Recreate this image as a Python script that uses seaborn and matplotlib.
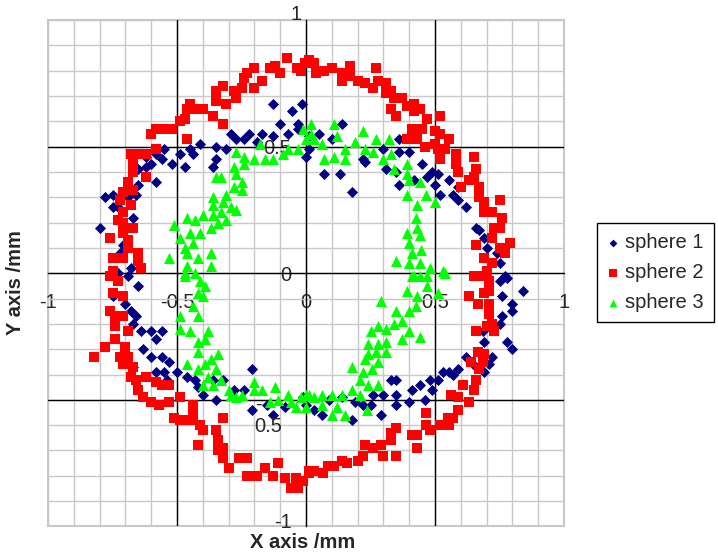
import pandas as pd
import numpy as np
import matplotlib
matplotlib.use("Agg")
import matplotlib.pyplot as plt
import matplotlib.transforms as mtransforms
import seaborn as sns

# Points, (x, y) in mm
sphere1 = [
    (-0.13, 0.67), (-0.055, 0.64), (-0.015, 0.67), (-0.03, 0.59), (-0.10, 0.59), (-0.17, 0.55),
    (-0.22, 0.55), (-0.27, 0.53), (-0.29, 0.55), (-0.24, 0.53), (-0.19, 0.52), (-0.13, 0.54),
    (-0.07, 0.55), (-0.03, 0.57), (0.00, 0.46), (-0.35, 0.50), (-0.31, 0.49), (-0.35, 0.45),
    (-0.36, 0.42), (-0.41, 0.51), (-0.45, 0.49), (-0.44, 0.47), (-0.49, 0.47), (-0.47, 0.42),
    (-0.52, 0.43), (-0.56, 0.45), (-0.55, 0.49), (-0.58, 0.47), (-0.62, 0.46), (-0.62, 0.42),
    (-0.65, 0.41), (-0.60, 0.43), (-0.58, 0.36), (-0.65, 0.35), (-0.66, 0.31), (-0.69, 0.30),
    (-0.75, 0.31), (-0.78, 0.30), (-0.75, 0.26), (-0.73, 0.26), (-0.80, 0.18), (-0.67, 0.22),
    (-0.71, 0.11), (-0.72, 0.08), (-0.68, 0.02), (-0.73, 0.00),
    (0.01, 0.54), (0.01, 0.49), (0.05, 0.55), (0.10, 0.53), (0.14, 0.59), (0.07, 0.39),
    (0.13, 0.39), (0.18, 0.32), (0.22, 0.45), (0.23, 0.44), (0.30, 0.49), (0.36, 0.53),
    (0.36, 0.48), (0.40, 0.48), (0.31, 0.41), (0.35, 0.40), (0.36, 0.35), (0.45, 0.43),
    (0.47, 0.38), (0.49, 0.40), (0.51, 0.39), (0.50, 0.35), (0.52, 0.31), (0.555, 0.37),
    (0.57, 0.31), (0.59, 0.29), (0.59, 0.34), (0.62, 0.26), (0.66, 0.18), (0.67, 0.17),
    (0.69, 0.14), (0.70, 0.10), (0.74, 0.08), (0.75, 0.04), (0.78, -0.02), (0.42, 0.37),
    (-0.75, 0.00), (-0.69, -0.01), (-0.65, -0.05), (-0.75, -0.09), (-0.70, -0.12), (-0.68, -0.15),
    (-0.66, -0.17), (-0.67, -0.20), (-0.64, -0.23), (-0.60, -0.23), (-0.56, -0.23), (-0.58, -0.26),
    (-0.63, -0.30), (-0.60, -0.33), (-0.56, -0.33), (-0.53, -0.35), (-0.67, -0.37), (-0.58, -0.39),
    (-0.55, -0.39), (-0.54, -0.42), (-0.50, -0.39), (-0.46, -0.41), (-0.43, -0.42), (-0.42, -0.45),
    (-0.40, -0.48), (-0.36, -0.42), (-0.32, -0.42), (-0.35, -0.50), (-0.28, -0.46), (-0.24, -0.46),
    (-0.21, -0.38), (-0.21, -0.54), (-0.15, -0.52), (-0.13, -0.56), (-0.08, -0.53), (0.00, -0.52),
    (0.77, -0.01), (0.75, -0.03), (0.84, -0.07), (0.76, -0.09), (0.80, -0.12), (0.80, -0.15),
    (0.76, -0.17), (0.75, -0.20), (0.685, -0.23), (0.69, -0.27), (0.78, -0.27), (0.80, -0.30),
    (0.72, -0.33), (0.71, -0.36), (0.66, -0.37), (0.69, -0.39), (0.62, -0.33), (0.59, -0.38),
    (0.57, -0.40), (0.555, -0.39), (0.53, -0.39), (0.51, -0.42), (0.48, -0.42), (0.44, -0.44),
    (0.49, -0.46), (0.46, -0.50), (0.41, -0.46), (0.40, -0.51), (0.35, -0.42), (0.33, -0.42),
    (0.35, -0.48), (0.30, -0.48), (0.26, -0.48), (0.25, -0.52), (0.22, -0.52), (0.29, -0.56),
    (0.35, -0.52), (0.18, -0.58), (0.19, -0.51), (0.14, -0.49), (0.09, -0.50), (0.06, -0.56),
    (0.03, -0.54), (-0.01, -0.49),
]

sphere2 = [
    (-0.074, 0.85), (-0.12, 0.82), (-0.035, 0.81), (-0.003, 0.83), (-0.14, 0.81), (-0.20, 0.81),
    (-0.23, 0.79), (-0.17, 0.76), (-0.24, 0.77), (-0.10, 0.79), (-0.32, 0.74), (-0.35, 0.72),
    (-0.28, 0.72), (-0.25, 0.73), (-0.20, 0.73), (-0.27, 0.69), (-0.31, 0.67), (-0.35, 0.68),
    (-0.32, 0.59), (-0.36, 0.62), (-0.40, 0.65), (-0.45, 0.67), (-0.46, 0.65), (-0.43, 0.65),
    (-0.47, 0.61), (-0.49, 0.60), (-0.46, 0.53), (-0.52, 0.57), (-0.55, 0.57), (-0.58, 0.57),
    (-0.60, 0.55), (-0.58, 0.49), (-0.62, 0.47), (-0.65, 0.47), (-0.68, 0.47), (-0.67, 0.43),
    (-0.67, 0.40), (-0.62, 0.38), (-0.69, 0.36), (-0.71, 0.32), (-0.67, 0.33), (-0.72, 0.29),
    (-0.68, 0.27), (-0.71, 0.24), (-0.73, 0.21), (-0.71, 0.20), (-0.67, 0.18), (-0.71, 0.16),
    (-0.69, 0.13), (-0.76, 0.14), (-0.75, 0.06), (-0.71, 0.06), (-0.65, 0.08), (-0.65, 0.05),
    (-0.64, 0.02), (-0.75, 0.01), (-0.69, 0.10),
    (-0.02, 0.80), (0.013, 0.84), (0.03, 0.83), (0.04, 0.79), (0.07, 0.80), (0.10, 0.81),
    (0.14, 0.79), (0.14, 0.76), (0.17, 0.82), (0.17, 0.78), (0.20, 0.76), (0.23, 0.75),
    (0.26, 0.73), (0.27, 0.81), (0.28, 0.76), (0.31, 0.75), (0.31, 0.71), (0.33, 0.72),
    (0.34, 0.69), (0.33, 0.65), (0.35, 0.62), (0.37, 0.69), (0.39, 0.66), (0.42, 0.67),
    (0.44, 0.65), (0.42, 0.64), (0.47, 0.61), (0.41, 0.57), (0.45, 0.57), (0.39, 0.53),
    (0.43, 0.53), (0.46, 0.50), (0.50, 0.56), (0.52, 0.62), (0.52, 0.55), (0.50, 0.51),
    (0.51, 0.49), (0.555, 0.53), (0.54, 0.49), (0.52, 0.45), (0.58, 0.47), (0.58, 0.43),
    (0.59, 0.40), (0.65, 0.46), (0.66, 0.41), (0.65, 0.38), (0.60, 0.34), (0.63, 0.37),
    (0.67, 0.34), (0.67, 0.30), (0.69, 0.28), (0.69, 0.24), (0.75, 0.29), (0.72, 0.24),
    (0.76, 0.22), (0.73, 0.18), (0.75, 0.18), (0.72, 0.14), (0.79, 0.12), (0.75, 0.10),
    (0.77, 0.08), (0.66, 0.11), (0.69, 0.06), (0.72, 0.04), (0.70, 0.01), (0.65, -0.01),
    (-0.76, -0.01), (-0.73, -0.03), (-0.75, -0.08), (-0.71, -0.09), (-0.76, -0.15), (-0.74, -0.17),
    (-0.71, -0.17), (-0.74, -0.21), (-0.74, -0.26), (-0.69, -0.23), (-0.78, -0.29), (-0.82, -0.33),
    (-0.70, -0.29), (-0.72, -0.33), (-0.69, -0.33), (-0.71, -0.36), (-0.67, -0.37), (-0.68, -0.41),
    (-0.66, -0.42), (-0.62, -0.41), (-0.58, -0.43), (-0.53, -0.44), (-0.56, -0.44), (-0.65, -0.46),
    (-0.63, -0.49), (-0.60, -0.51), (-0.57, -0.52), (-0.53, -0.51), (-0.49, -0.49), (-0.51, -0.57),
    (-0.49, -0.58), (-0.45, -0.58), (-0.44, -0.52), (-0.44, -0.56), (-0.41, -0.60), (-0.40, -0.62),
    (-0.32, -0.57), (-0.42, -0.68), (-0.35, -0.62), (-0.34, -0.66), (-0.34, -0.70), (-0.32, -0.69),
    (-0.32, -0.73), (-0.30, -0.77), (-0.26, -0.73), (-0.23, -0.73), (-0.23, -0.80), (-0.19, -0.80),
    (-0.16, -0.77), (-0.11, -0.75), (-0.13, -0.80), (-0.08, -0.81), (-0.06, -0.85), (-0.03, -0.85),
    (-0.04, -0.81), (0.01, -0.78),
    (0.66, -0.01), (0.69, -0.01), (0.71, -0.03), (0.63, -0.09), (0.665, -0.12), (0.69, -0.08),
    (0.71, -0.07), (0.71, -0.12), (0.71, -0.16), (0.72, -0.20), (0.73, -0.23), (0.70, -0.21),
    (0.66, -0.23), (0.665, -0.31), (0.69, -0.32), (0.64, -0.35), (0.685, -0.35), (0.67, -0.38),
    (0.66, -0.42), (0.61, -0.44), (0.65, -0.46), (0.63, -0.51), (0.59, -0.49), (0.56, -0.48),
    (0.59, -0.54), (0.57, -0.57), (0.55, -0.57), (0.555, -0.60), (0.52, -0.60), (0.465, -0.55),
    (0.465, -0.60), (0.48, -0.62), (0.43, -0.64), (0.41, -0.64), (0.43, -0.69), (0.35, -0.61),
    (0.33, -0.63), (0.33, -0.66), (0.35, -0.72), (0.29, -0.68), (0.30, -0.72), (0.26, -0.69),
    (0.23, -0.68), (0.22, -0.72), (0.20, -0.74), (0.16, -0.75), (0.14, -0.74), (0.11, -0.76),
    (0.085, -0.76), (0.065, -0.79), (0.03, -0.78), (0.01, -0.79), (-0.01, -0.82),
]

sphere3 = [
    (0.02, 0.55), (0.00, 0.53), (-0.03, 0.49), (-0.07, 0.49), (-0.09, 0.47), (-0.13, 0.45),
    (-0.16, 0.45), (-0.18, 0.51), (-0.20, 0.45), (-0.24, 0.46), (-0.27, 0.48), (-0.24, 0.43),
    (-0.27, 0.39), (-0.28, 0.42), (-0.25, 0.36), (-0.35, 0.38), (-0.33, 0.38), (-0.25, 0.33),
    (-0.28, 0.34), (-0.31, 0.31), (-0.36, 0.30), (-0.29, 0.26), (-0.27, 0.25), (-0.32, 0.28),
    (-0.36, 0.27), (-0.36, 0.23), (-0.33, 0.24), (-0.31, 0.21), (-0.34, 0.20), (-0.40, 0.23),
    (-0.43, 0.21), (-0.46, 0.22), (-0.51, 0.19), (-0.37, 0.18), (-0.41, 0.16), (-0.45, 0.16),
    (-0.49, 0.14), (-0.44, 0.12), (-0.47, 0.10), (-0.53, 0.06), (-0.46, 0.08), (-0.42, 0.06),
    (-0.37, 0.08), (-0.37, 0.03), (-0.46, 0.03), (-0.47, 0.00), (-0.43, 0.00),
    (-0.01, 0.57), (0.02, 0.59), (0.03, 0.53), (0.06, 0.51), (0.07, 0.45), (0.11, 0.59),
    (0.12, 0.54), (0.11, 0.46), (0.15, 0.49), (0.15, 0.45), (0.19, 0.52), (0.22, 0.56),
    (0.23, 0.49), (0.26, 0.48), (0.27, 0.53), (0.32, 0.53), (0.30, 0.45), (0.33, 0.47),
    (0.34, 0.41), (0.39, 0.43), (0.39, 0.39), (0.40, 0.37), (0.44, 0.36), (0.465, 0.31),
    (0.50, 0.28), (0.39, 0.31), (0.43, 0.27), (0.425, 0.22), (0.43, 0.18), (0.39, 0.16),
    (0.44, 0.15), (0.40, 0.12), (0.445, 0.09), (0.41, 0.08), (0.35, 0.05), (0.40, 0.04),
    (0.44, 0.04), (0.48, 0.02), (0.53, 0.01), (0.41, -0.01),
    (-0.47, -0.01), (-0.41, -0.03), (-0.39, -0.05), (-0.42, -0.08), (-0.40, -0.09), (-0.44, -0.13),
    (-0.49, -0.17), (-0.42, -0.17), (-0.38, -0.23), (-0.49, -0.22), (-0.45, -0.23), (-0.42, -0.27),
    (-0.39, -0.26), (-0.42, -0.31), (-0.34, -0.32), (-0.37, -0.34), (-0.46, -0.36), (-0.42, -0.38),
    (-0.39, -0.36), (-0.35, -0.38), (-0.38, -0.41), (-0.40, -0.44), (-0.36, -0.44), (-0.33, -0.42),
    (-0.30, -0.46), (-0.29, -0.48), (-0.27, -0.49), (-0.25, -0.48), (-0.20, -0.43), (-0.20, -0.46),
    (-0.17, -0.46), (-0.12, -0.45), (-0.11, -0.50), (-0.07, -0.48), (-0.04, -0.53), (-0.02, -0.49),
    (0.00, -0.48), (-0.06, -0.51), (-0.14, -0.51),
    (0.42, -0.01), (0.44, -0.01), (0.47, -0.01), (0.54, 0.00), (0.47, -0.05), (0.43, -0.09),
    (0.51, -0.08), (0.39, -0.07), (0.29, -0.11), (0.425, -0.13), (0.40, -0.15), (0.35, -0.15),
    (0.37, -0.19), (0.34, -0.20), (0.31, -0.22), (0.28, -0.21), (0.25, -0.23), (0.40, -0.23),
    (0.44, -0.25), (0.37, -0.26), (0.31, -0.27), (0.28, -0.28), (0.24, -0.28), (0.31, -0.31),
    (0.27, -0.31), (0.24, -0.32), (0.23, -0.34), (0.28, -0.35), (0.18, -0.37), (0.22, -0.39),
    (0.255, -0.38), (0.21, -0.42), (0.24, -0.44), (0.28, -0.44), (0.18, -0.46), (0.21, -0.48),
    (0.14, -0.48), (0.10, -0.48), (0.06, -0.48), (0.03, -0.49), (0.01, -0.48), (0.12, -0.53),
    (0.10, -0.56), (0.15, -0.56), (0.235, -0.54), (0.06, -0.52), (0.00, -0.53),
]

series_names = ["sphere 1", "sphere 2", "sphere 3"]
series_points = [sphere1, sphere2, sphere3]
series_colors = ["#000080", "#ff0000", "#00ff00"]
series_markers = ["D", "s", "^"]
series_sizes = [32, 56, 64]

tick_values = [-1, -0.5, 0, 0.5, 1]
x_tick_labels = ["-1", "-0.5", "0", "0.5", "1"]
y_tick_labels = ["-1", "", "0", "0.5", "1"]

df = pd.concat(
    [pd.DataFrame(pts, columns=["x", "y"]).assign(series=name)
     for name, pts in zip(series_names, series_points)],
    ignore_index=True,
)

sns.set_style("white")
plt.rcParams["font.family"] = ["Liberation Sans", "DejaVu Sans"]
plt.rcParams["font.size"] = 14.5

fig = plt.figure(figsize=(7.18, 5.55), dpi=100)
ax = fig.add_axes([0.0669, 0.0514, 0.7187, 0.9126])

for name, color, marker, size in zip(series_names, series_colors, series_markers, series_sizes):
    sns.scatterplot(data=df[df["series"] == name], x="x", y="y", color=color,
                    marker=marker, s=size, linewidth=0, label=name, ax=ax, zorder=3)

ax.set_xlim(-1, 1)
ax.set_ylim(-1, 1)

# fine grid every 0.1, black lines at +/-0.5
minor = np.round(np.arange(-1, 1.001, 0.1), 2)
ax.set_xticks(minor, minor=True)
ax.set_yticks(minor, minor=True)
ax.set_xticks(tick_values)
ax.set_yticks(tick_values)
ax.set_xticklabels(x_tick_labels)
ax.set_yticklabels(y_tick_labels)
ax.set_axisbelow(True)
ax.grid(which="both", color="#c8c8c8", linewidth=1.0)
for v in (-0.5, 0.5):
    ax.axvline(v, color="black", linewidth=1.0, zorder=0.8)
    ax.axhline(v, color="black", linewidth=1.0, zorder=0.8)

ax.patch.set_edgecolor("#c8c8c8")
ax.patch.set_linewidth(1.5)

# axes crossing at the origin, Excel style
for side in ("left", "bottom"):
    ax.spines[side].set_position("zero")
    ax.spines[side].set_color("black")
    ax.spines[side].set_linewidth(1.0)
for side in ("top", "right"):
    ax.spines[side].set_visible(False)

ax.tick_params(axis="x", which="both", direction="out", length=3.5, width=1,
               color="black", pad=11, labelsize=14.5)
ax.tick_params(axis="y", which="both", direction="out", length=3.5, width=1,
               color="black", pad=7, labelsize=14.5)
ax.tick_params(which="minor", labelbottom=False, labelleft=False)

# end labels of the y axis sit a little higher, as in the original
fig.canvas.draw()
ylabels = ax.get_yticklabels()
ylabels[0].set_transform(ylabels[0].get_transform()
                         + mtransforms.ScaledTranslation(0, 0.06, fig.dpi_scale_trans))
ylabels[-1].set_transform(ylabels[-1].get_transform()
                          + mtransforms.ScaledTranslation(0.1, 0.07, fig.dpi_scale_trans))

ax.annotate("-\n0.5", xy=(0, -0.5), xytext=(-37, -11), textcoords="offset points",
            ha="left", va="center", multialignment="left", fontsize=14.5)

ax.set_xlabel("X axis /mm", fontweight="bold", fontsize=14.5, va="center")
ax.set_ylabel("Y axis /mm", fontweight="bold", fontsize=14.5, va="center")
ax.xaxis.set_label_coords(0.494, -0.0326)
ax.yaxis.set_label_coords(-0.064, 0.482)

leg = ax.legend(loc="upper left", bbox_to_anchor=(597 / 718, 1 - 223 / 555),
                bbox_transform=fig.transFigure, frameon=True, fancybox=False,
                edgecolor="black", framealpha=1, fontsize=14.5, borderaxespad=0,
                borderpad=0.5, handlelength=0.6, handletextpad=0.3, labelspacing=0.55,
                markerscale=0.7)
leg.get_frame().set_linewidth(1.0)

fig.savefig("out.png", dpi=100)
